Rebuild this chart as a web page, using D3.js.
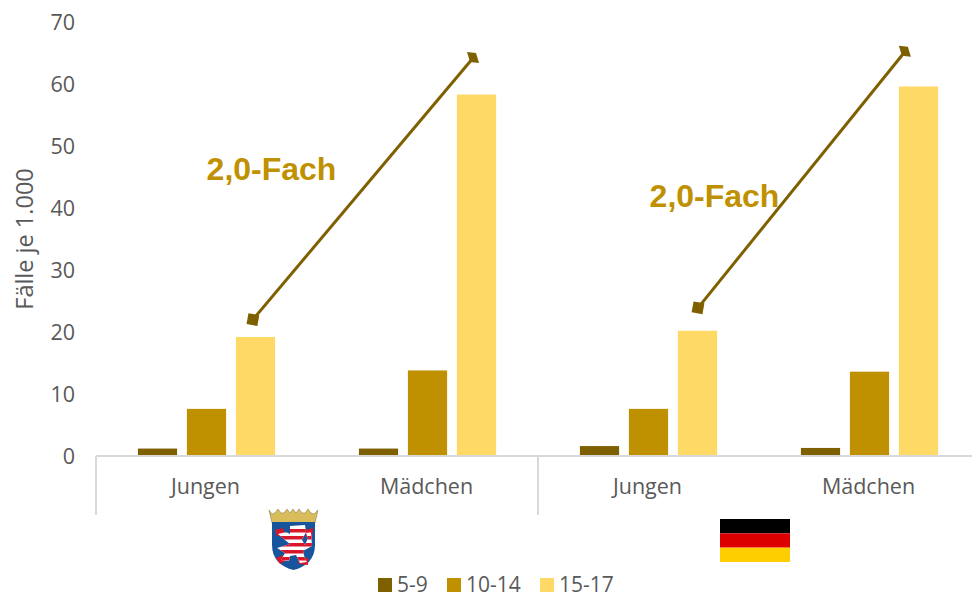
<!DOCTYPE html>
<html><head><meta charset="utf-8">
<style>html,body{margin:0;padding:0;background:#fff;overflow:hidden}svg{display:block}</style>
<script src="https://cdn.jsdelivr.net/npm/d3@7"></script></head><body>
<svg id="c" width="972" height="593"></svg>
<script>
const groups = ["Hessen", "Deutschland"];
const categories = ["Jungen", "Mädchen", "Jungen", "Mädchen"];
const seriesNames = ["5-9", "10-14", "15-17"];
const values59 = [1.2, 1.2, 1.6, 1.3];
const values1014 = [7.6, 13.8, 7.6, 13.6];
const values1517 = [19.2, 58.3, 20.2, 59.6];
const colors = ["#7f6000", "#bf9000", "#ffd966"];
const yTicks = [0, 10, 20, 30, 40, 50, 60, 70];
const yTitle = "Fälle je 1.000";
const arrowLabel = "2,0-Fach";
// arrow ends: [category position, value]
const arrowHessen = [[0.71, 22.0], [1.706, 64.2]];
const arrowDeutschland = [[2.724, 23.9], [3.66, 65.2]];
const flagColors = ["#000000", "#dd0000", "#ffce00"];

const svg = d3.select("#c");
const font = "Open Sans";
const y = d3.scaleLinear().domain([0, 70]).range([456, 22]);
const xPos = d3.scaleLinear().domain([0, 4]).range([96, 980]);
const idx = d3.range(categories.length);
const x0 = d3.scaleBand().domain(idx).range([96, 980]);
const x1 = d3.scaleBand().domain(seriesNames).range([x0.bandwidth()/2 - 73.5 , x0.bandwidth()/2 + 73.5]).paddingInner(0.2).paddingOuter(0.1);
const tc = "#595959";

// y labels
const yAxis = d3.axisLeft(y).tickValues(yTicks).tickSize(0).tickPadding(0);
const ya = svg.append("g").attr("transform","translate(75,1)").call(yAxis);
ya.select(".domain").remove();
ya.selectAll("text").attr("fill",tc).style("font-size","21.5px").style("font-family",font);
svg.append("text").attr("transform","translate(33,239) rotate(-90)").attr("text-anchor","middle")
  .attr("fill",tc).style("font-size","23.5px").style("font-family",font).text(yTitle);

// bars
[values59, values1014, values1517].forEach((vals,s)=>{
  svg.append("g").selectAll("rect").data(vals).join("rect")
    .attr("x",(d,i)=>x0(i)+x1(seriesNames[s]))
    .attr("width",x1.bandwidth())
    .attr("y",d=>y(d)).attr("height",d=>y(0)-y(d)).attr("fill",colors[s]);
});

// multi-level axis frame
const axisCol = "#d9d9d9";
const frame = svg.append("g").attr("stroke",axisCol).attr("stroke-width",2).attr("fill","none");
frame.append("line").attr("x1",xPos(0)).attr("x2",xPos(4)).attr("y1",y(0)).attr("y2",y(0));
[0,2].forEach(p=>frame.append("line").attr("x1",xPos(p)).attr("x2",xPos(p)).attr("y1",y(0)).attr("y2",515));
svg.append("g").selectAll("text").data(categories).join("text")
  .attr("x",(d,i)=>xPos(i+0.5)-1).attr("y",494).attr("text-anchor","middle")
  .attr("fill",tc).style("font-size","21.5px").style("font-family",font).text(d=>d);

// arrows
[arrowHessen, arrowDeutschland].forEach(a=>{
  const p = a.map(d=>[xPos(d[0]), y(d[1])]);
  svg.append("line").attr("x1",p[0][0]).attr("y1",p[0][1]).attr("x2",p[1][0]).attr("y2",p[1][1])
    .attr("stroke",colors[0]).attr("stroke-width",3);
  svg.append("rect").attr("x",-5.5).attr("y",-5.5).attr("width",11).attr("height",11).attr("fill",colors[0])
    .attr("transform",`translate(${p[0][0]},${p[0][1]}) rotate(10)`);
  svg.append("path").attr("d","M-6,-6 L3,-5 L6,5 L-3,4 Z").attr("fill",colors[0])
    .attr("transform",`translate(${p[1][0]},${p[1][1]})`);
});
svg.append("g").selectAll("text").data([[271.5,180],[714.5,207]]).join("text")
  .attr("x",d=>d[0]).attr("y",d=>d[1]).attr("text-anchor","middle").attr("fill",colors[1])
  .style("font-family","Liberation Sans").style("font-weight","700").style("font-size","32px").text(arrowLabel);

// German flag
const flagY = d3.scaleBand().domain(flagColors).range([519,562]);
svg.append("g").selectAll("rect").data(flagColors).join("rect")
  .attr("x",720).attr("width",70).attr("y",d=>flagY(d)).attr("height",flagY.bandwidth()).attr("fill",d=>d);

// Hessen coat of arms
const h = svg.append("g").attr("transform","translate(269,509)");
h.append("path").attr("d","M0,1 L3,5 L6,4 L9,0 L12,4 L15,4 L18,0 L21,4 L24,0 L27,4 L30,0 L33,4 L36,4 L39,0 L42,4 L45,5 L49,1 L46,14 L3,14 Z").attr("fill","#d9bd5c").attr("stroke","#8f8250").attr("stroke-width",.6);
h.append("path").attr("d","M3,13 H46 V36 C46,50 37,58 24.5,61 C12,58 3,50 3,36 Z").attr("fill","#17559c");
// claws, tongue
h.append("g").attr("fill","#d8172b").selectAll("path")
  .data(["M6,21 L14,19 L16,27 L8,27 Z","M36,21 L44,19 L43,28 L37,28 Z","M7,49 L18,45 L19,50 L11,55 Z","M29,50 L39,49 L39,56 L30,55 Z"])
  .join("path").attr("d",d=>d);
const lion = "M9,25 L17,23 L21,25 L21,17 L36,16 L37,23 L33,31 L36,36 L39,29 L37,24 L42,23 L43,37 L34,42 L36,50 L38,53 L31,54 L27,46 L21,47 L20,52 L12,51 L16,44 L8,39 L21,35 L16,31 Z";
svg.append("defs").append("clipPath").attr("id","l").append("path").attr("d",lion);
h.append("path").attr("d",lion).attr("fill","#fff");
const st = h.append("g").attr("clip-path","url(#l)").attr("fill","#d8172b");
d3.range(20,56,7).forEach(v=>st.append("rect").attr("x",5).attr("y",v).attr("width",40).attr("height",3.5));

// legend
const lg = svg.append("g");
const lx = [378,447,540], tx=[397,466,559];
seriesNames.forEach((n,i)=>{
  lg.append("rect").attr("x",lx[i]).attr("y",578).attr("width",14).attr("height",14).attr("fill",colors[i]);
  lg.append("text").attr("x",tx[i]).attr("y",592).attr("fill",tc).style("font-size","21px").style("font-family",font).text(n);
});
</script></body></html>
